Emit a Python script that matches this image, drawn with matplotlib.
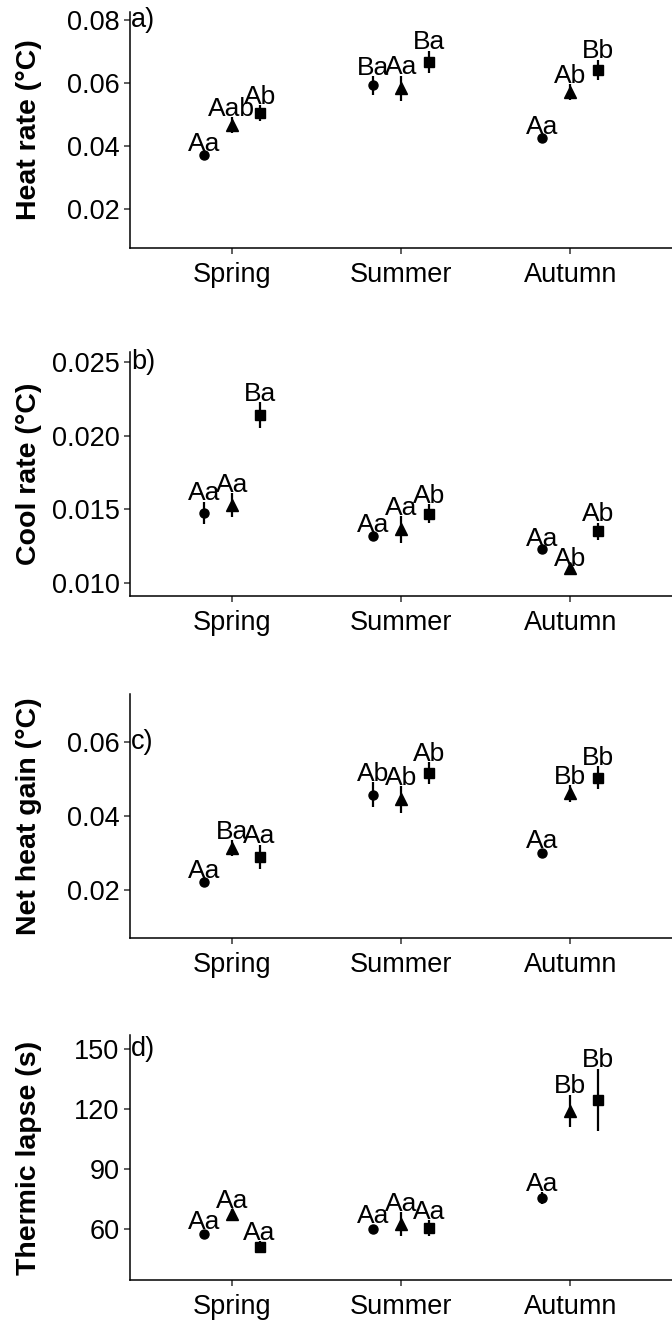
import matplotlib
matplotlib.use("Agg")
import matplotlib.pyplot as plt
import numpy as np

plt.rcParams['font.family'] = ['Liberation Sans', 'DejaVu Sans']

seasons = ["Spring", "Summer", "Autumn"]
markers = ["o", "^", "s"]
marker_sizes = [6.5, 8.5, 6.5]

# means and standard errors, one row per group (circle, triangle, square)
heat_mean = [[0.0372, 0.0592, 0.0424],
             [0.0466, 0.0583, 0.0571],
             [0.0504, 0.0667, 0.0641]]
heat_se = [[0.0006, 0.0030, 0.0008],
           [0.0026, 0.0040, 0.0024],
           [0.0026, 0.0035, 0.0033]]
heat_lab = [["Aa", "Ba", "Aa"], ["Aab", "Aa", "Ab"], ["Ab", "Ba", "Bb"]]

cool_mean = [[0.01475, 0.01318, 0.01230],
             [0.01530, 0.01363, 0.01099],
             [0.02140, 0.01470, 0.01350]]
cool_se = [[0.00077, 0.00020, 0.00012],
           [0.00080, 0.00090, 0.00008],
           [0.00090, 0.00065, 0.00060]]
cool_lab = [["Aa", "Aa", "Aa"], ["Aa", "Aa", "Ab"], ["Ba", "Ab", "Ab"]]

gain_mean = [[0.0222, 0.0458, 0.0301],
             [0.0313, 0.0445, 0.0461],
             [0.0290, 0.0517, 0.0504]]
gain_se = [[0.0007, 0.0034, 0.0009],
           [0.0022, 0.0036, 0.0023],
           [0.0032, 0.0029, 0.0031]]
gain_lab = [["Aa", "Ab", "Aa"], ["Ba", "Ab", "Bb"], ["Aa", "Ab", "Bb"]]

lapse_mean = [[57.3, 60.0, 75.3],
              [67.5, 62.3, 119.2],
              [50.8, 60.3, 124.7]]
lapse_se = [[2.0, 2.2, 3.0],
            [2.5, 6.0, 8.0],
            [3.0, 4.0, 15.5]]
lapse_lab = [["Aa", "Aa", "Aa"], ["Aa", "Aa", "Bb"], ["Aa", "Aa", "Bb"]]

panels = [
    ("Heat rate (°C)", "a)", heat_mean, heat_se, heat_lab,
     [0.02, 0.04, 0.06, 0.08], "%.2f", (0.0076, 0.0825)),
    ("Cool rate (°C)", "b)", cool_mean, cool_se, cool_lab,
     [0.010, 0.015, 0.020, 0.025], "%.3f", (0.0091, 0.0257)),
    ("Net heat gain (°C)", "c)", gain_mean, gain_se, gain_lab,
     [0.02, 0.04, 0.06], "%.2f", (0.007, 0.073)),
    ("Thermic lapse (s)", "d)", lapse_mean, lapse_se, lapse_lab,
     [60, 90, 120, 150], "%d", (34.5, 157)),
]

# axes boxes in figure fractions (left, bottom, width, height)
boxes = [(0.1935, 0.8123, 0.8065, 0.1786),
         (0.1935, 0.5488, 0.8065, 0.1847),
         (0.1935, 0.2899, 0.8065, 0.1847),
         (0.1935, 0.0310, 0.8065, 0.1855)]

dodge = 0.165
x = np.arange(1, len(seasons) + 1)

fig = plt.figure(figsize=(6.72, 13.21), dpi=100)

for box, (ylab, tag, means, ses, labs, yt, fmt, ylim) in zip(boxes, panels):
    ax = fig.add_axes(box)
    for g in range(3):
        xs = x + (g - 1) * dodge
        ax.errorbar(xs, means[g], yerr=ses[g], fmt=markers[g], color="black",
                    ms=marker_sizes[g], elinewidth=1.6, capsize=0, zorder=3)
        for xi, m, s, t in zip(xs, means[g], ses[g], labs[g]):
            ax.annotate(t, (xi, m + s), xytext=(0, 1), textcoords="offset points",
                        ha="center", va="baseline", fontsize=19)
    ax.set_xlim(0.4, 3.6)
    ax.set_ylim(*ylim)
    ax.set_xticks(x)
    ax.set_xticklabels(seasons)
    ax.set_yticks(yt)
    ax.set_yticklabels([fmt % v for v in yt])
    ax.text(0.405, yt[-1], tag, ha="left", va="center", fontsize=19.5)
    for side in ["top", "right"]:
        ax.spines[side].set_visible(False)
    for side in ["left", "bottom"]:
        ax.spines[side].set_linewidth(1.1)
    ax.tick_params(axis="both", labelsize=19.5, length=4.5, width=1.1,
                   color="#333333", labelcolor="black")
    ax.tick_params(axis="x", pad=5.5)
    ax.tick_params(axis="y", pad=3)
    ax.set_ylabel(ylab, fontsize=20.5, fontweight="bold")
    ax.yaxis.set_label_coords(-0.162, 0.5)

fig.savefig("out.png", dpi=100)
